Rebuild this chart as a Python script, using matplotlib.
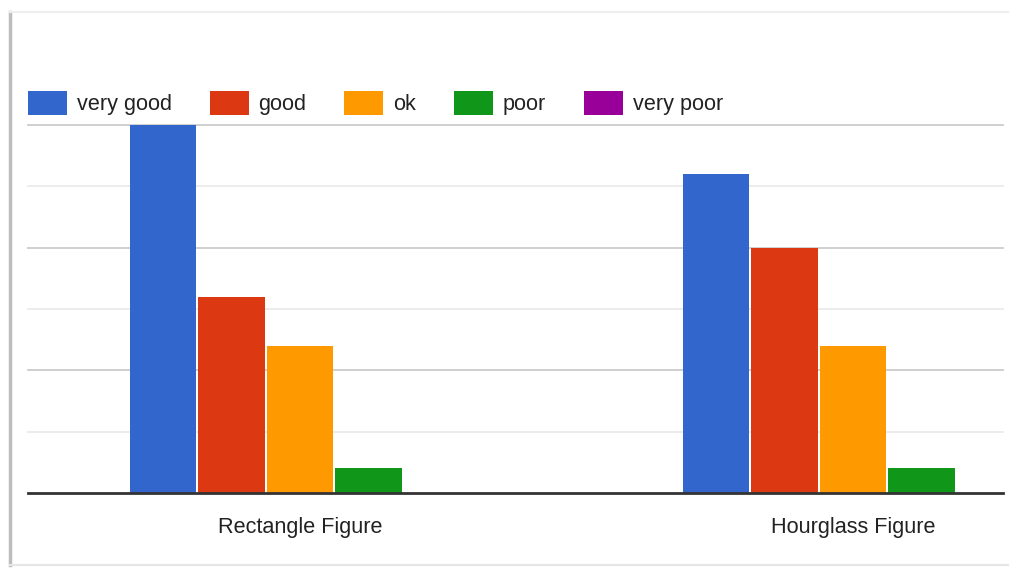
import matplotlib
matplotlib.use('Agg')
import numpy as np
from matplotlib import pyplot as plt
from matplotlib.lines import Line2D
from matplotlib.patches import Patch

plt.rcParams['font.family'] = ['Liberation Sans', 'DejaVu Sans']

CATEGORIES = ['Rectangle Figure', 'Hourglass Figure']
SERIES = ['very good', 'good', 'ok', 'poor', 'very poor']
VALUES = {
    'very good': [15, 13],
    'good': [8, 10],
    'ok': [6, 6],
    'poor': [1, 1],
    'very poor': [0, 0],
}
COLORS = ['#3366cc', '#dc3912', '#ff9900', '#109618', '#990099']

W, H = 1010, 568
fig = plt.figure(figsize=(W / 100, H / 100), dpi=100)

# chart area, in pixels of the screenshot
left, right, top, bottom = 28, 1003, 125, 493
ax = fig.add_axes([left / W, 1 - bottom / H, (right - left) / W, (bottom - top) / H])

step = 553.0  # px between category centres
x0 = 300.0    # px of first category centre
ax.set_xlim(-(x0 - left) / step, (right - x0) / step)
ax.set_ylim(0, 15)

x = np.arange(len(CATEGORIES))
slot = 68.5 / step
for i, (name, col) in enumerate(zip(SERIES, COLORS)):
    off = (i - (len(SERIES) - 1) / 2) * slot
    ax.bar(x + off, VALUES[name], width=slot * 0.975, color=col,
           edgecolor='none', zorder=2)

# gridlines: major every 5, minor in between
for y in [5, 10, 15]:
    ax.axhline(y, color='#cccccc', lw=1.3, zorder=0, clip_on=False)
for y in [2.5, 7.5, 12.5]:
    ax.axhline(y, color='#ebebeb', lw=1.3, zorder=0, clip_on=False)
ax.axhline(0, color='#333333', lw=2, zorder=3, clip_on=False)

for s in ax.spines.values():
    s.set_visible(False)
ax.set_yticks([])
ax.set_xticks(x)
ax.set_xticklabels(CATEGORIES, fontsize=15.6, color='#222222')
ax.tick_params(axis='x', length=0, pad=17)

handles = [Patch(facecolor=c, edgecolor='none') for c in COLORS]
fig.legend(handles, SERIES, loc='upper left',
           bbox_to_anchor=(left / W, 1 - 91 / H), ncol=5, frameon=False,
           fontsize=15.6, handlelength=1.8, handleheight=1.35,
           handletextpad=0.45, columnspacing=1.75, borderpad=0,
           borderaxespad=0, labelcolor='#222222')

# screenshot frame
fig.add_artist(Line2D([10 / W, 10 / W], [1 - 12 / H, 1 - 565 / H],
                      color='#bdbdbd', lw=2.5))
fig.add_artist(Line2D([10 / W, 1 - 2 / W], [1 - 12 / H, 1 - 12 / H],
                      color='#eeeeee', lw=1.5))
fig.add_artist(Line2D([10 / W, 1 - 2 / W], [1 - 565 / H, 1 - 565 / H],
                      color='#e6e6e6', lw=1.5))

fig.savefig('out.png', dpi=100)
